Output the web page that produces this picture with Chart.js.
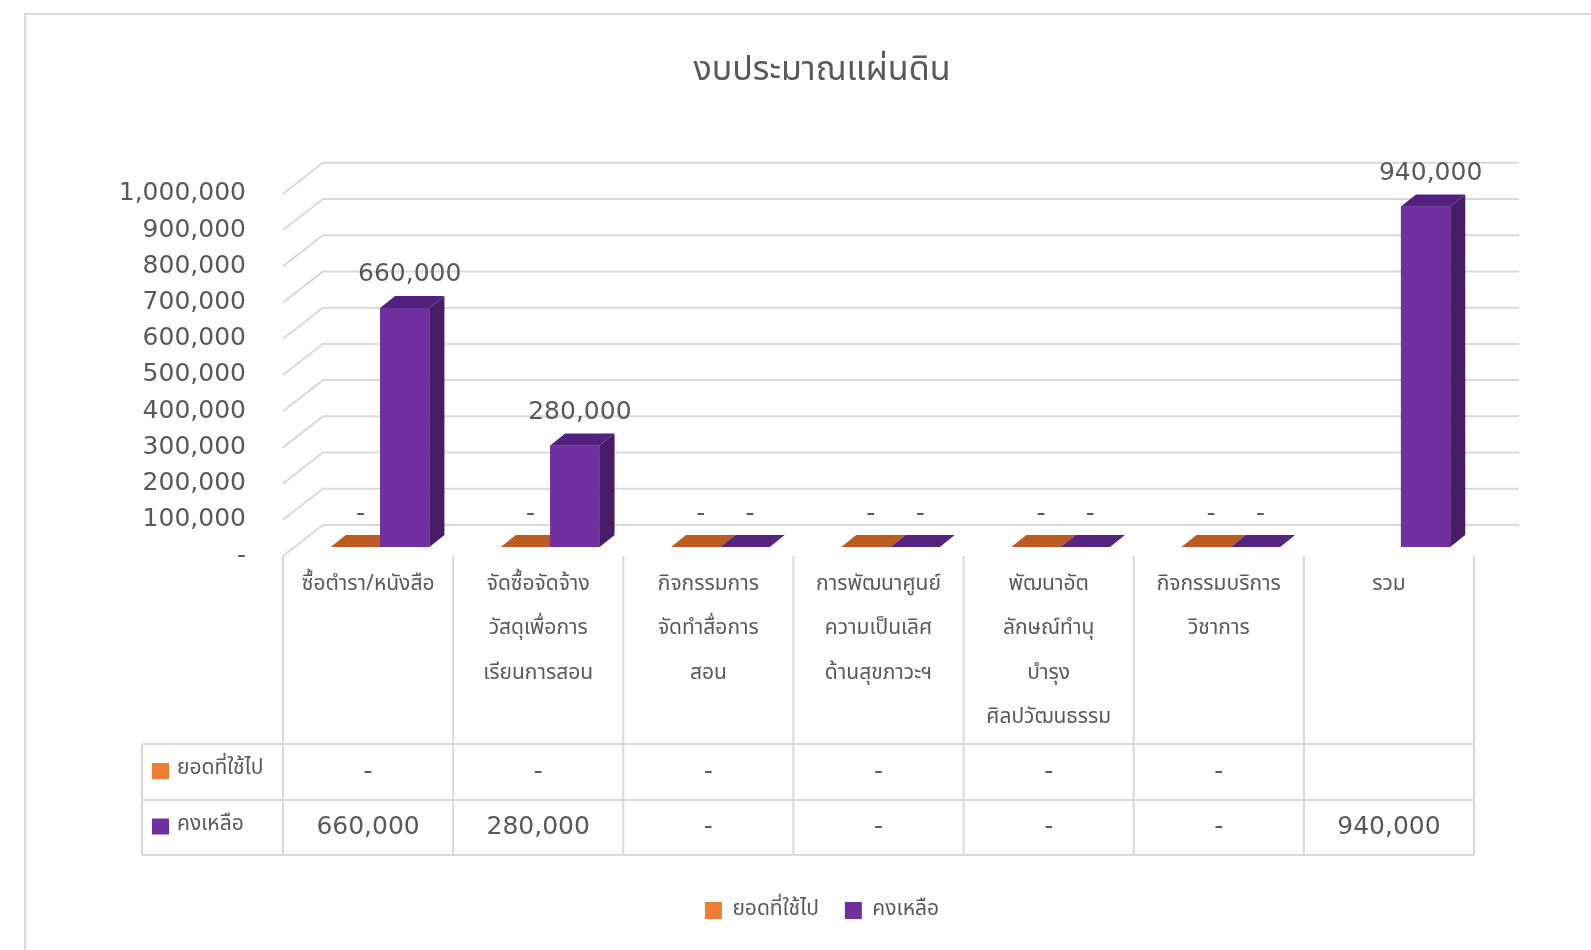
<!DOCTYPE html>
<html>
<head>
<meta charset="utf-8">
<script src="https://cdn.jsdelivr.net/npm/chart.js@4.4.1/dist/chart.umd.min.js"></script>
<style>
  html, body { margin: 0; padding: 0; background: #fff; overflow: hidden; }
  canvas { display: block; }
</style>
</head>
<body>
<canvas id="chart" width="1591" height="950"></canvas>
<script>
// ข้อมูลกราฟ
const categories = [
    ["ซื้อตำรา/หนังสือ"],
    ["จัดซื้อจัดจ้าง", "วัสดุเพื่อการ", "เรียนการสอน"],
    ["กิจกรรมการ", "จัดทำสื่อการ", "สอน"],
    ["การพัฒนาศูนย์", "ความเป็นเลิศ", "ด้านสุขภาวะฯ"],
    ["พัฒนาอัต", "ลักษณ์ทำนุ", "บำรุง", "ศิลปวัฒนธรรม"],
    ["กิจกรรมบริการ", "วิชาการ"],
    ["รวม"]
];
const seriesNames = ["ยอดที่ใช้ไป", "คงเหลือ"];
const spent = [0, 0, 0, 0, 0, 0, null];
const remaining = [660000, 280000, 0, 0, 0, 0, 940000];
const yTicks = [0, 100000, 200000, 300000, 400000, 500000, 600000, 700000, 800000, 900000, 1000000];

const THAI = '"Noto Sans Thai", "Noto Sans Thai UI", Loma, Garuda, Tahoma, "DejaVu Sans", sans-serif';
const NUM = '"DejaVu Sans", sans-serif';
const GRAY = "#595959";
const LINE = "#d9d9d9";

// ระยะเอียงแบบ 3 มิติ
const D = { fx: -12, fy: 9, bx: 28, by: -22, dx: 15, dy: -12 };
const faceColors = [
    { front: "#ED7D31", top: "#ba5c20", flat: "#ba5c20", side: "#b0561c" },
    { front: "#7030A0", top: "#522180", flat: "#56237f", side: "#461d66" }
];

const fmt = v => (v === 0 ? "-" : v.toLocaleString("en-US"));

const threeD = {
    id: "threeD",
    beforeDraw(chart) {
        const c = chart.ctx;
        c.save();
        c.strokeStyle = LINE;
        c.lineWidth = 2;
        c.beginPath();
        c.moveTo(25, 960);
        c.lineTo(25, 14);
        c.lineTo(1600, 14);
        c.stroke();
        c.restore();
    },
    beforeDatasetsDraw(chart) {
        const c = chart.ctx, y = chart.scales.y, a = chart.chartArea;
        c.save();
        c.strokeStyle = LINE;
        c.lineWidth = 2;
        y.ticks.forEach(t => {
            const py = y.getPixelForValue(t.value);
            c.beginPath();
            c.moveTo(a.left + D.fx, py + D.fy);
            c.lineTo(a.left + D.bx, py + D.by);
            c.lineTo(a.right + 33, py + D.by);
            c.stroke();
        });
        c.restore();
    },
    afterDatasetsDraw(chart) {
        const c = chart.ctx;
        c.save();
        chart.data.datasets.forEach((ds, di) => {
            const col = faceColors[di];
            chart.getDatasetMeta(di).data.forEach((el, i) => {
                if (ds.data[i] === null) return;
                const p = el.getProps(["x", "y", "base", "width"], true);
                const x0 = p.x - p.width / 2, x1 = p.x + p.width / 2;
                const top = Math.min(p.y, p.base), base = Math.max(p.y, p.base);
                const tall = base - top > 0.5;
                if (tall) {
                    c.fillStyle = col.front;
                    c.fillRect(x0, top, x1 - x0, base - top);
                    c.fillStyle = col.side;
                    c.beginPath();
                    c.moveTo(x1, top);
                    c.lineTo(x1 + D.dx, top + D.dy);
                    c.lineTo(x1 + D.dx, base + D.dy);
                    c.lineTo(x1, base);
                    c.closePath();
                    c.fill();
                }
                c.fillStyle = tall ? col.top : col.flat;
                c.beginPath();
                c.moveTo(x0, top);
                c.lineTo(x1, top);
                c.lineTo(x1 + D.dx, top + D.dy);
                c.lineTo(x0 + D.dx, top + D.dy);
                c.closePath();
                c.fill();
            });
        });
        c.restore();
    },
    afterDraw(chart) {
        const c = chart.ctx, x = chart.scales.x;
        c.save();
        // ป้ายข้อมูล
        c.fillStyle = GRAY;
        c.font = "25px " + NUM;
        c.textAlign = "center";
        c.textBaseline = "middle";
        chart.data.datasets.forEach((ds, di) => {
            chart.getDatasetMeta(di).data.forEach((el, i) => {
                if (ds.data[i] === null) return;
                c.fillText(fmt(ds.data[i]), el.x + 5, el.y - 33);
            });
        });
        // ตารางข้อมูล
        const w = x.getPixelForTick(1) - x.getPixelForTick(0);
        const rows = [744, 800, 855];
        const left = x.getPixelForTick(0) - w / 2 + D.fx;
        const right = left + w * categories.length;
        c.strokeStyle = LINE;
        c.lineWidth = 2;
        c.beginPath();
        rows.forEach(r => { c.moveTo(142, r); c.lineTo(right, r); });
        for (let k = 0; k <= categories.length; k++) {
            c.moveTo(left + k * w, 556);
            c.lineTo(left + k * w, rows[2]);
        }
        c.moveTo(142, rows[0]);
        c.lineTo(142, rows[2]);
        c.stroke();

        const series = [spent, remaining];
        series.forEach((vals, r) => {
            const cy = (rows[r] + rows[r + 1]) / 2;
            c.fillStyle = faceColors[r].front;
            c.fillRect(152, cy - 9, 17, 16);
            c.fillStyle = GRAY;
            c.font = "21px " + THAI;
            c.textAlign = "left";
            c.fillText(seriesNames[r], 177, cy - 2);
            c.font = "25px " + NUM;
            c.textAlign = "center";
            vals.forEach((v, i) => {
                if (v === null) return;
                c.fillText(fmt(v), left + (i + 0.5) * w, cy);
            });
        });
        c.restore();
    }
};

const ctx = document.getElementById("chart").getContext("2d");
const chart = new Chart(ctx, {
    type: "bar",
    data: {
        labels: categories,
        datasets: [
            { label: seriesNames[0], data: spent, backgroundColor: faceColors[0].front },
            { label: seriesNames[1], data: remaining, backgroundColor: faceColors[1].front }
        ]
    },
    options: {
        responsive: false,
        animation: false,
        categoryPercentage: 0.58,
        barPercentage: 1,
        layout: { padding: { left: 100, right: 47, top: 0, bottom: 19 } },
        scales: {
            x: {
                grid: { display: false, drawTicks: false },
                border: { display: false },
                ticks: {
                    color: GRAY,
                    font: { family: THAI, size: 21, lineHeight: 2.1 },
                    padding: 17,
                    labelOffset: D.fx,
                    maxRotation: 0,
                    minRotation: 0,
                    autoSkip: false
                },
                afterFit: s => { s.height = 327; }
            },
            y: {
                min: 0,
                max: 1000000,
                grid: { display: false, drawTicks: false },
                border: { display: false },
                afterBuildTicks: s => { s.ticks = yTicks.map(v => ({ value: v })); },
                ticks: {
                    color: GRAY,
                    font: { family: NUM, size: 25 },
                    padding: 49,
                    labelOffset: D.fy,
                    callback: v => fmt(v)
                },
                afterFit: s => { s.width = 195; }
            },
            // แกนว่างด้านขวา ใช้จัดตำแหน่งชื่อกราฟและคำอธิบาย
            y2: {
                position: "right",
                grid: { display: false, drawTicks: false },
                border: { display: false },
                ticks: { display: false },
                afterFit: s => { s.width = 58; }
            }
        },
        plugins: {
            title: {
                display: true,
                text: "งบประมาณแผ่นดิน",
                color: GRAY,
                font: { family: THAI, size: 34, weight: "normal" },
                padding: { top: 53, bottom: 91 }
            },
            legend: {
                position: "bottom",
                labels: {
                    color: GRAY,
                    font: { family: THAI, size: 21 },
                    boxWidth: 17,
                    boxHeight: 17,
                    padding: 26
                }
            },
            tooltip: { enabled: false }
        }
    },
    plugins: [threeD]
});
</script>
</body>
</html>
